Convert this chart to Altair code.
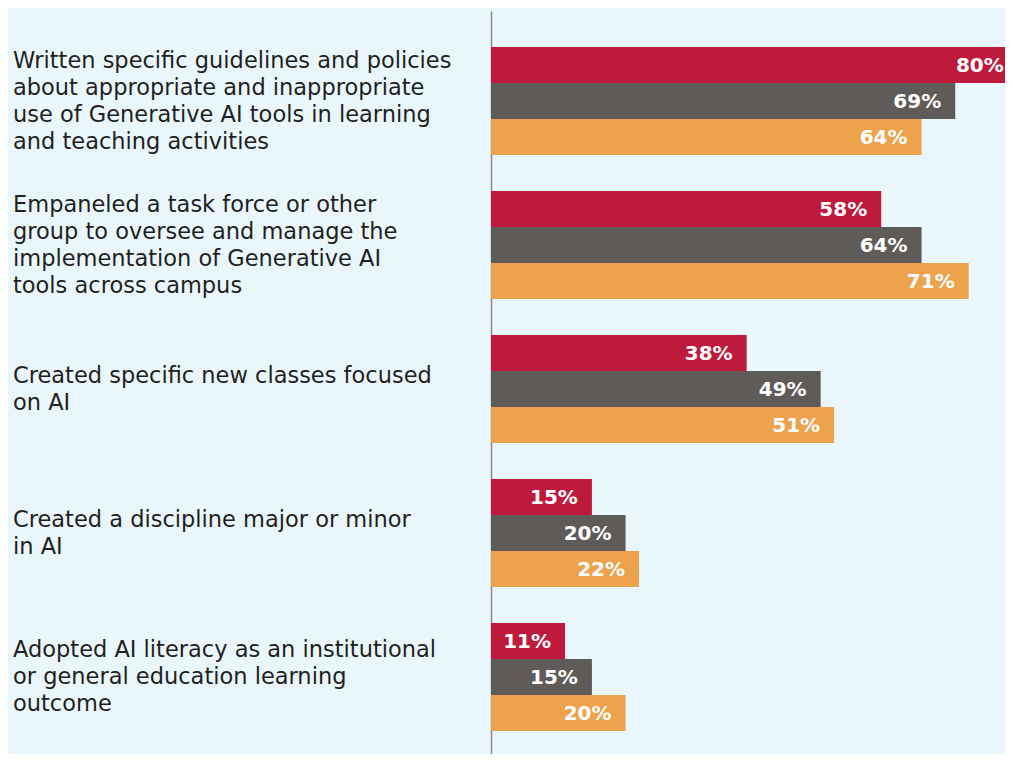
import altair as alt
import pandas as pd

label_lines = [
    ["Written specific guidelines and policies", "about appropriate and inappropriate",
     "use of Generative AI tools in learning", "and teaching activities"],
    ["Empaneled a task force or other", "group to oversee and manage the",
     "implementation of Generative AI", "tools across campus"],
    ["Created specific new classes focused", "on AI"],
    ["Created a discipline major or minor", "in AI"],
    ["Adopted AI literacy as an institutional", "or general education learning", "outcome"],
]
categories = [" ".join(l) for l in label_lines]
series = ["Series A", "Series B", "Series C"]
series_colors = ["#be1a3c", "#5f5b59", "#eca34c"]
values_a = [80, 58, 38, 15, 11]
values_b = [69, 64, 49, 20, 15]
values_c = [64, 71, 51, 22, 20]

rows = []
for i, cat in enumerate(categories):
    for s, vals in zip(series, [values_a, values_b, values_c]):
        rows.append({"category": cat, "series": s, "value": vals[i]})
df = pd.DataFrame(rows)

# one row per label line; position = group index + line offset (in group units)
LINE_STEP = 27 / 144
lab_rows = []
for i, lines in enumerate(label_lines):
    n = len(lines)
    for j, line in enumerate(lines):
        lab_rows.append({"line": line, "pos": i + (j - (n - 1) / 2) * LINE_STEP})
df_lab = pd.DataFrame(lab_rows)

LABEL_FONT = "DejaVu Sans"
X_MAX = 76.4          # visible end of the value axis
LABEL_X_MAX = 78.3    # keep value labels inside the visible area

y_enc = alt.Y(
    "category:N",
    sort=categories,
    title=None,
    scale=alt.Scale(paddingInner=0.25, paddingOuter=0.205, align=0.61),
    axis=alt.Axis(
        ticks=False,
        labels=False,
        domainColor="#8c8c8c",
        domainWidth=1.5,
        grid=False,
    ),
)
yoff = alt.YOffset("series:N", sort=series, scale=alt.Scale(paddingInner=0, paddingOuter=0))
x_scale = alt.Scale(domain=[0, X_MAX], nice=False, zero=True)

bars = alt.Chart(df).mark_bar(clip=True, cornerRadius=0).encode(
    x=alt.X("value:Q", scale=x_scale, axis=None),
    y=y_enc,
    yOffset=yoff,
    color=alt.Color("series:N", sort=series,
                    scale=alt.Scale(domain=series, range=series_colors), legend=None),
)

values_text = alt.Chart(df).transform_calculate(
    lab="datum.value + '%'",
    xpos=f"min(datum.value, {LABEL_X_MAX})",
).mark_text(
    align="right", baseline="middle", dx=-14, dy=1,
    color="white", font=LABEL_FONT, fontWeight="bold", fontSize=20,
).encode(
    x=alt.X("xpos:Q", scale=x_scale, axis=None),
    y=alt.Y("category:N", sort=categories),
    yOffset=yoff,
    text="lab:N",
)

cat_text = alt.Chart(df_lab).mark_text(
    align="left", baseline="middle", font=LABEL_FONT, fontSize=22.5, color="#231f20",
).encode(
    x=alt.value(-478),
    y=alt.Y("pos:Q", scale=alt.Scale(domain=[4.5347, -0.625], nice=False, zero=False), axis=None),
    text="line:N",
)

chart = alt.layer(alt.layer(bars, values_text), cat_text).resolve_scale(
    y="independent"
).properties(
    width=514,
    height=743,
    padding={"left": 483, "top": 3, "right": 0, "bottom": 0},
    autosize=alt.AutoSizeParams(type="none"),
).configure(
    background="#e9f7fc",
).configure_view(
    strokeWidth=0,
)

chart.save("out.html", embed_options={"renderer": "svg", "actions": False})
